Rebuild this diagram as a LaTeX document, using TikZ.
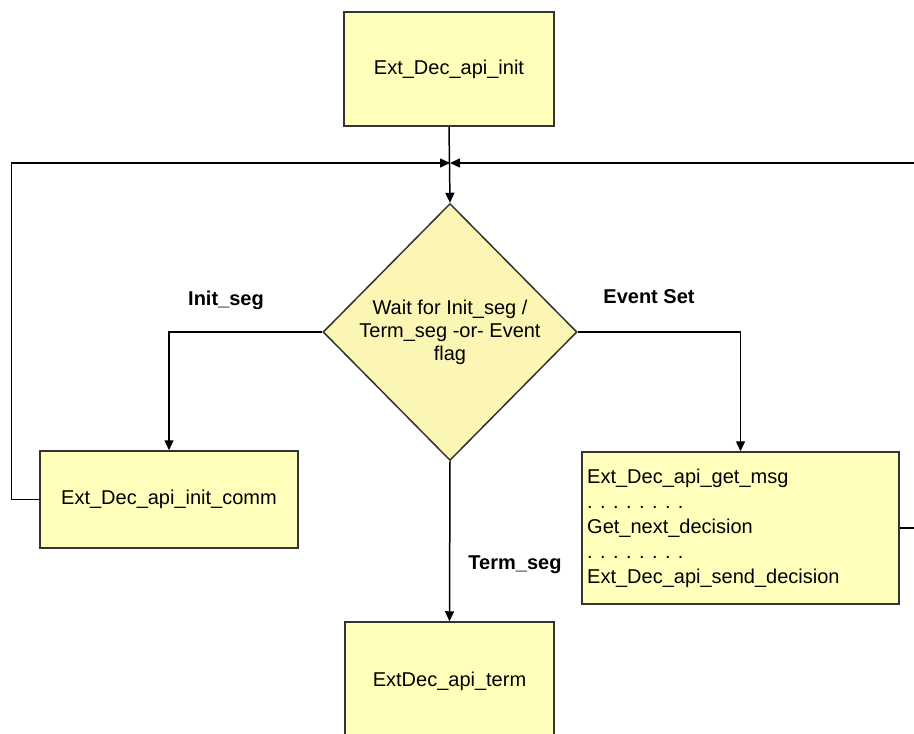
\documentclass[tikz,border=0pt]{standalone}
\usepackage{fontspec}
\setmainfont{Liberation Sans}
\usetikzlibrary{shapes.geometric,arrows.meta}
\definecolor{boxfill}{HTML}{FFFFBB}
\definecolor{decfill}{HTML}{FBF6B4}
\definecolor{edge}{HTML}{333333}
\begin{document}
\begin{tikzpicture}[x=1pt,y=-1pt,
  every node/.style={font=\fontsize{20}{24}\selectfont},
  procbox/.style={draw=edge,line width=1.5pt,fill=boxfill,rectangle,inner sep=0pt},
  decbox/.style={draw=edge,line width=1.5pt,fill=decfill,diamond,inner sep=0pt,minimum width=254pt,minimum height=257pt},
  conn/.style={draw=black,line width=1.5pt},
  arr/.style={conn,-{Triangle[length=10pt,width=9pt]}},
  lbl/.style={font=\fontsize{20}{24}\selectfont\bfseries}]
\useasboundingbox (0,0) rectangle (914,734);
\node[procbox,minimum width=210pt,minimum height=114pt] (init) at (449,69) {Ext\_Dec\_api\_init};
\node[decbox] (dec) at (450,332) {};
\node[align=center,font=\fontsize{20}{23}\selectfont] (dectext) at (450,332) {Wait for Init\_seg /\\Term\_seg -or- Event\\flag};
\node[procbox,minimum width=258pt,minimum height=97pt] (lbox) at (169,499.5) {Ext\_Dec\_api\_init\_comm};
\node[procbox,minimum width=317pt,minimum height=152pt] (rbox) at (740.5,528) {};
\node[anchor=west,align=left,inner sep=0pt,font=\fontsize{20}{25}\selectfont] (rtext) at (587,528) {Ext\_Dec\_api\_get\_msg\\. . . . . . . .\\Get\_next\_decision\\. . . . . . . .\\Ext\_Dec\_api\_send\_decision};
\node[procbox,minimum width=209pt,minimum height=118pt] (bbox) at (449.5,681) {ExtDec\_api\_term};
\coordinate (j) at (450,163);
\node[lbl] (linit) at (226,300) {Init\_seg};
\node[lbl] (levent) at (649,297) {Event Set};
\node[lbl] (lterm) at (515,565) {Term\_seg};
\draw[arr] (init.south) -- (dec.north);
\draw[arr] (lbox.west) -- ++(-28,0) |- (j);
\draw[arr] (rbox.east) -- ++(30,0) |- (j);
\draw[arr] (dec.west) -| (lbox.north);
\draw[arr] (dec.east) -| (rbox.north);
\draw[arr] (dec.south) -- (bbox.north);
\end{tikzpicture}
\end{document}
